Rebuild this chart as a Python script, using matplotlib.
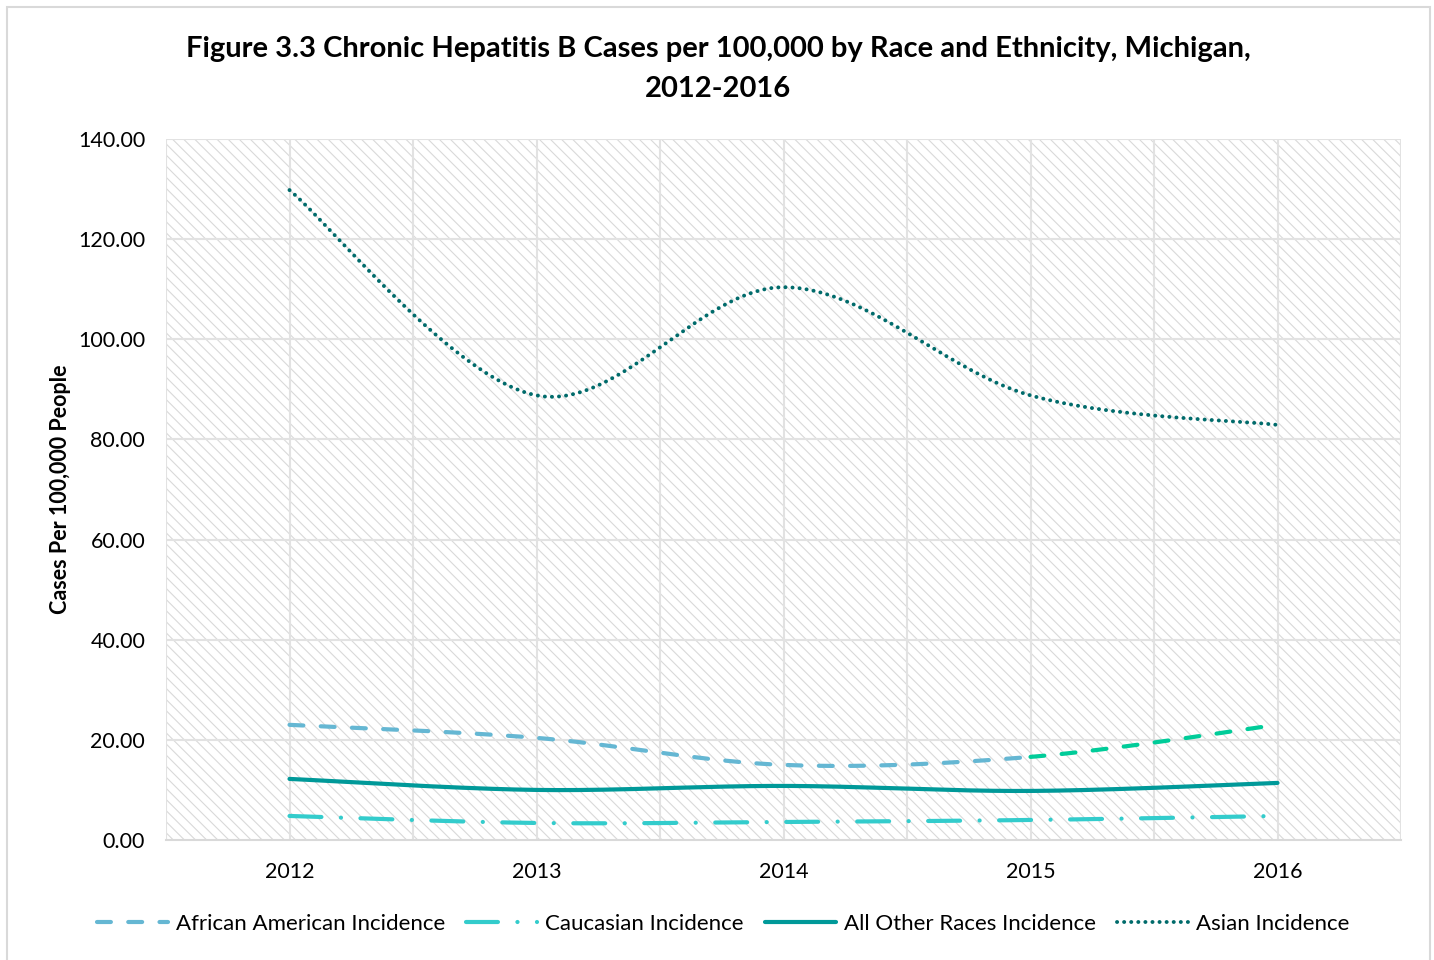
import numpy as np
import matplotlib
matplotlib.use("Agg")
import matplotlib.pyplot as plt
from matplotlib.patches import Rectangle
from matplotlib.lines import Line2D

plt.rcParams['font.family'] = ['Lato', 'DejaVu Sans']
plt.rcParams['lines.scale_dashes'] = False
plt.rcParams['hatch.linewidth'] = 0.8
plt.rcParams['hatch.color'] = '#d9d9d9'

years = ['2012', '2013', '2014', '2015', '2016']
african_american = [23.0, 20.4, 15.0, 16.6, 23.0]
caucasian = [4.8, 3.4, 3.6, 4.0, 4.8]
all_other = [12.2, 10.0, 10.8, 9.8, 11.4]
asian = [129.8, 88.8, 110.4, 88.8, 82.9]
y_ticks = [0, 20, 40, 60, 80, 100, 120, 140]


def smooth(values, steps=60):
    """Cubic Bezier smoothing through every point (spreadsheet-style smoothed line)."""
    p = np.column_stack([np.arange(len(values), dtype=float), np.asarray(values, float)])
    ext = np.vstack([p[0], p, p[-1]])
    xs, ys = [], []
    t = np.linspace(0, 1, steps)[:, None]
    for i in range(len(p) - 1):
        p0, p1, p2, p3 = ext[i], ext[i + 1], ext[i + 2], ext[i + 3]
        c1 = p1 + (p2 - p0) / 6.0
        c2 = p2 - (p3 - p1) / 6.0
        seg = ((1 - t) ** 3) * p1 + 3 * ((1 - t) ** 2) * t * c1 + 3 * (1 - t) * t ** 2 * c2 + t ** 3 * p2
        if i > 0:
            seg = seg[1:]
        xs.append(seg[:, 0])
        ys.append(seg[:, 1])
    return np.concatenate(xs), np.concatenate(ys)


fig = plt.figure(figsize=(14.34, 9.6), dpi=100)
ax = fig.add_axes([166 / 1434, 1 - 840 / 960, (1401 - 166) / 1434, (840 - 139) / 960])

# outer chart border
fig.patches.append(Rectangle((7 / 1434, -0.02), (1430 - 7) / 1434, 1.02 - 7 / 960,
                             transform=fig.transFigure, fill=False,
                             edgecolor='#d9d9d9', linewidth=1.5, zorder=0))

# hatched plot area
ax.set_facecolor('white')
ax.add_patch(Rectangle((0, 0), 1, 1, transform=ax.transAxes, facecolor='white',
                       edgecolor='#d9d9d9', hatch='\\\\\\', linewidth=0, zorder=0))

ax.set_xlim(-0.5, 4.5)
ax.set_ylim(0, 140)

for gx in np.arange(-0.5, 4.51, 0.5):
    ax.axvline(gx, color='#e2e2e2', linewidth=1.5, zorder=1)
for gy in y_ticks[1:]:
    ax.axhline(gy, color='#e2e2e2', linewidth=1.5, zorder=1)

for s in ['top', 'right', 'left']:
    ax.spines[s].set_visible(False)
ax.spines['bottom'].set_color('#d9d9d9')
ax.spines['bottom'].set_linewidth(1.5)
ax.spines['bottom'].set_zorder(2)

ax.set_xticks(range(len(years)))
ax.set_xticklabels(years)
ax.set_yticks(y_ticks)
ax.set_yticklabels([f'{v:.2f}' for v in y_ticks])
ax.tick_params(length=0, labelsize=15.5, colors='#000000')
ax.tick_params(axis='x', pad=16)
ax.tick_params(axis='y', pad=15)

# series
lw = 3.0
aa_color, aa_tail = '#65b7d3', '#00cc99'
x, y = smooth(african_american)
m = x <= 3.0
ax.plot(x[m], y[m], color=aa_color, lw=lw, dashes=(10, 12.5), dash_capstyle='round', zorder=3)
ax.plot(x[x >= 2.99], y[x >= 2.99], color=aa_tail, lw=lw, dashes=(10, 12.5),
        dash_capstyle='round', zorder=3)

x, y = smooth(caucasian)
ax.plot(x, y, color='#33cccc', lw=lw, dashes=(23, 14, 0.1, 14), dash_capstyle='round', zorder=3)

x, y = smooth(all_other)
ax.plot(x, y, color='#009999', lw=lw, solid_capstyle='round', zorder=3)

x, y = smooth(asian)
ax.plot(x, y, color='#006b6b', lw=2.8, dashes=(0.1, 5.0), dash_capstyle='round', zorder=3)

ax.set_ylabel('Cases Per 100,000 People', fontsize=15.5, fontweight='bold', labelpad=5)

fig.text(0.5008, 1 - 49 / 960,
         'Figure 3.3 Chronic Hepatitis B Cases per 100,000 by Race and Ethnicity, Michigan,',
         ha='center', va='center', fontsize=21, fontweight='bold')
fig.text(0.5008, 1 - 89 / 960, '2012-2016',
         ha='center', va='center', fontsize=21, fontweight='bold')

handles = [
    Line2D([], [], color=aa_color, lw=lw, dashes=(10, 12.5), dash_capstyle='round'),
    Line2D([], [], color='#33cccc', lw=lw, dashes=(23, 14, 0.1, 14), dash_capstyle='round'),
    Line2D([], [], color='#009999', lw=lw, solid_capstyle='round'),
    Line2D([], [], color='#006b6b', lw=2.8, dashes=(0.1, 5.0), dash_capstyle='round'),
]
labels = ['African American Incidence', 'Caucasian Incidence',
          'All Other Races Incidence', 'Asian Incidence']
fig.legend(handles, labels, loc='center', bbox_to_anchor=(723 / 1434, 1 - 924 / 960),
           ncol=4, frameon=False, fontsize=16, handlelength=3.2, handletextpad=0.35,
           columnspacing=0.95)

fig.savefig('out.png', dpi=100)
